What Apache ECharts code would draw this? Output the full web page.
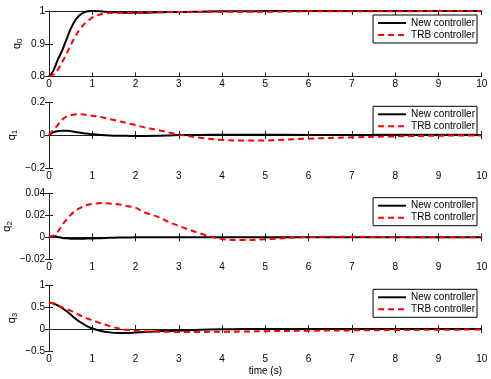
<!DOCTYPE html>
<html>
<head>
<meta charset="utf-8">
<script src="https://cdn.jsdelivr.net/npm/echarts@6/dist/echarts.min.js"></script>
<style>html,body{margin:0;padding:0;background:#fff}#c{width:491px;height:379px}</style>
</head>
<body>
<div id="c"></div>
<script>
// time samples (s)
const T = [0,0.1,0.2,0.3,0.4,0.5,0.6,0.7,0.8,0.9,1.0,1.2,1.4,1.6,1.8,2.0,2.2,2.5,2.8,3.0,3.5,4.0,4.5,5,6,7,8,9,10];
// q0
const q0New = [0.8,0.818,0.85,0.878,0.912,0.945,0.97,0.986,0.995,0.999,1.0,0.999,0.997,0.996,0.995,0.995,0.995,0.996,0.997,0.997,0.998,0.999,0.999,1,1,1,1,1,1];
const q0TRB = [0.8,0.806,0.82,0.843,0.868,0.895,0.92,0.942,0.958,0.97,0.98,0.99,0.994,0.995,0.995,0.995,0.996,0.996,0.997,0.997,0.997,0.998,0.998,0.998,0.999,0.999,0.999,1,1];
// q1
const q1New = [0,0.017,0.024,0.027,0.026,0.024,0.019,0.015,0.011,0.008,0.005,0.001,-0.002,-0.004,-0.005,-0.006,-0.006,-0.005,-0.002,0,0.001,0.002,0.002,0.002,0.001,0.001,0,0,0];
const q1TRB = [0,0.033,0.06,0.092,0.112,0.121,0.126,0.127,0.126,0.122,0.118,0.11,0.097,0.086,0.073,0.061,0.047,0.032,0.014,0.004,-0.017,-0.03,-0.034,-0.033,-0.022,-0.014,-0.008,-0.004,-0.002];
// q2
const q2New = [0,0.0012,0.0004,-0.0005,-0.0009,-0.0012,-0.0013,-0.0013,-0.0012,-0.0011,-0.001,-0.0007,-0.0004,-0.0002,-0.0001,0,0,0,0,0,0,0,0,0,0,0,0,0,0];
const q2TRB = [0,0.0015,0.005,0.011,0.016,0.0205,0.024,0.0265,0.0285,0.0298,0.0306,0.0315,0.031,0.0303,0.0288,0.0272,0.023,0.019,0.0135,0.0105,0.0035,-0.0015,-0.0025,-0.0018,0.0003,0.0005,0.0003,0.0001,0];
// q3
const q3New = [0.6,0.585,0.54,0.48,0.41,0.33,0.245,0.17,0.11,0.055,0.012,-0.048,-0.078,-0.09,-0.09,-0.08,-0.068,-0.055,-0.044,-0.037,-0.018,-0.008,-0.003,0,0,0,0,0,0];
const q3TRB = [0.6,0.59,0.55,0.5,0.46,0.42,0.37,0.32,0.275,0.235,0.2,0.13,0.065,0.015,-0.02,-0.04,-0.053,-0.062,-0.066,-0.067,-0.067,-0.064,-0.058,-0.05,-0.04,-0.032,-0.025,-0.018,-0.013];
// axis settings
const yMins = [0.8,-0.2,-0.02,-0.5];
const yMaxs = [1,0.2,0.04,1];
const ySteps = [0.1,0.2,0.02,0.5];
const xTicks = [0,10,1];
const newSeries = [q0New,q1New,q2New,q3New];
const trbSeries = [q0TRB,q1TRB,q2TRB,q3TRB];
const names = ['New controller','TRB controller'];
const subs = ['0','1','2','3'];

const FONT = 'Liberation Sans, Arial, Helvetica, sans-serif';
const tops = [11,102.3,193.7,285.3];
const H = 65.5;
const nameGaps = [25,30,35,30];

const fmt = v => String(Math.round(v*1e6)/1e6).replace('-', '\u2212');
const pair = arr => T.map((t,i)=>[t,arr[i]]);

const grid=[], xAxis=[], yAxis=[], series=[], legend=[];
const axLine = {show:true, lineStyle:{color:'#222', width:1}};
const axTick = {show:true, inside:true, length:4, lineStyle:{color:'#222', width:1}};
for (let i=0;i<4;i++){
  grid.push({left:49, right:9.3, top:tops[i], height:H, containLabel:false, outerBoundsMode:'none'});
  xAxis.push({type:'value', gridIndex:i, min:xTicks[0], max:xTicks[1], interval:xTicks[2], position:'bottom',
    axisLine:axLine, axisTick:axTick, splitLine:{show:false},
    axisLabel:{show:true, margin:3, fontSize:10, fontFamily:FONT, color:'#000'},
    name: i===3 ? 'time (s)' : '', nameLocation:'middle', nameGap:15, nameMoveOverlap:false,
    nameTextStyle:{fontSize:10, fontFamily:FONT, color:'#000'}});
  xAxis.push({type:'value', gridIndex:i, min:xTicks[0], max:xTicks[1], interval:xTicks[2], position:'top',
    axisLine:axLine, axisTick:axTick, splitLine:{show:false}, axisLabel:{show:false}});
  yAxis.push({type:'value', gridIndex:i, min:yMins[i], max:yMaxs[i], interval:ySteps[i], position:'left',
    axisLine:axLine, axisTick:axTick, splitLine:{show:false},
    axisLabel:{show:true, margin:4, fontSize:10, fontFamily:FONT, color:'#000', formatter:fmt},
    name:'{a|q}{b|'+subs[i]+'}', nameLocation:'middle', nameRotate:90, nameGap:nameGaps[i], nameMoveOverlap:false,
    nameTextStyle:{rich:{a:{fontSize:11, fontFamily:FONT, color:'#000', lineHeight:15},
                         b:{fontSize:8, fontFamily:FONT, color:'#000', verticalAlign:'bottom', lineHeight:10}}}});
  yAxis.push({type:'value', gridIndex:i, min:yMins[i], max:yMaxs[i], interval:ySteps[i], position:'right',
    axisLine:axLine, axisTick:axTick, splitLine:{show:false}, axisLabel:{show:false}});
  series.push({type:'line', name:names[0], xAxisIndex:2*i, yAxisIndex:2*i, data:pair(newSeries[i]),
    showSymbol:false, symbol:'none', smooth:0.35, lineStyle:{color:'#000', width:2}, itemStyle:{color:'#000'}, z:3});
  series.push({type:'line', name:names[1], xAxisIndex:2*i, yAxisIndex:2*i, data:pair(trbSeries[i]),
    showSymbol:false, symbol:'none', smooth:0.35, lineStyle:{color:'#ff0000', width:2, type:[6,4]}, itemStyle:{color:'#ff0000'}, z:4});
  legend.push({data:names, orient:'vertical', right:14, top:tops[i]+4, itemGap:0, itemWidth:28, itemHeight:12,
    padding:[2,2,2,4], borderColor:'#000', borderWidth:1, backgroundColor:'#fff', borderRadius:0,
    itemStyle:{opacity:0}, selectedMode:false,
    textStyle:{fontSize:10, fontFamily:FONT, color:'#000', lineHeight:12}});
}

const chart = echarts.init(document.getElementById('c'), null, {renderer:'canvas'});
chart.setOption({animation:false, backgroundColor:'#fff', grid, xAxis, yAxis, series, legend});
</script>
</body>
</html>
